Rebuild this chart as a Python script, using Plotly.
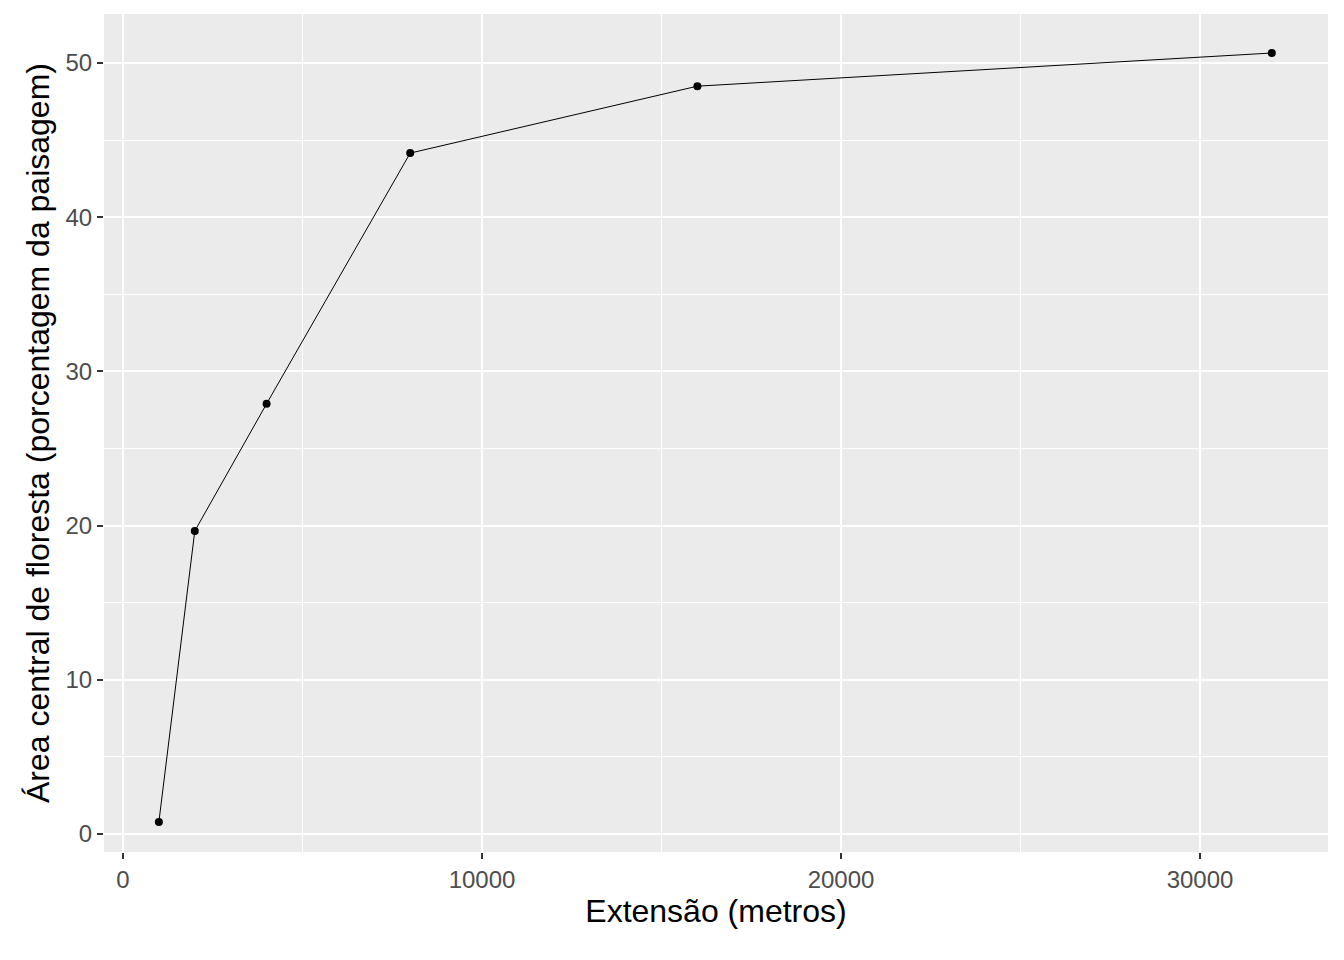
import plotly.graph_objects as go

extensao = [1000, 2000, 4000, 8000, 16000, 32000]
area_central = [0.78, 19.65, 27.9, 44.16, 48.5, 50.65]

fig = go.Figure(go.Scatter(
    x=extensao, y=area_central, mode="lines+markers",
    line=dict(color="black", width=1),
    marker=dict(color="black", size=8),
))

axis_common = dict(
    showline=False, zeroline=False,
    gridcolor="white", gridwidth=2,
    ticks="outside", ticklen=6, tickcolor="#333333", tickwidth=1.5,
    tickformat="d",
    tickfont=dict(family="Liberation Sans", size=24, color="#4d4d4d"),
)

fig.update_layout(
    width=1344, height=960,
    margin=dict(l=96, r=24, t=6, b=116),
    paper_bgcolor="white", plot_bgcolor="#ebebeb",
    showlegend=False,
    font=dict(family="Liberation Sans"),
)
fig.update_xaxes(
    axis_common, range=[-529, 33565], dtick=10000,
    minor=dict(dtick=5000, gridcolor="white", gridwidth=1, ticks=""),
    title=dict(text="Extensão (metros)", font=dict(size=32, color="black"), standoff=6),
)
fig.update_yaxes(
    axis_common, range=[-1.17, 53.18], dtick=10,
    minor=dict(dtick=5, gridcolor="white", gridwidth=1, ticks=""),
    title=dict(text="Área central de floresta (porcentagem da paisagem)",
               font=dict(size=32, color="black"), standoff=6),
)

fig.write_html("out.html")
